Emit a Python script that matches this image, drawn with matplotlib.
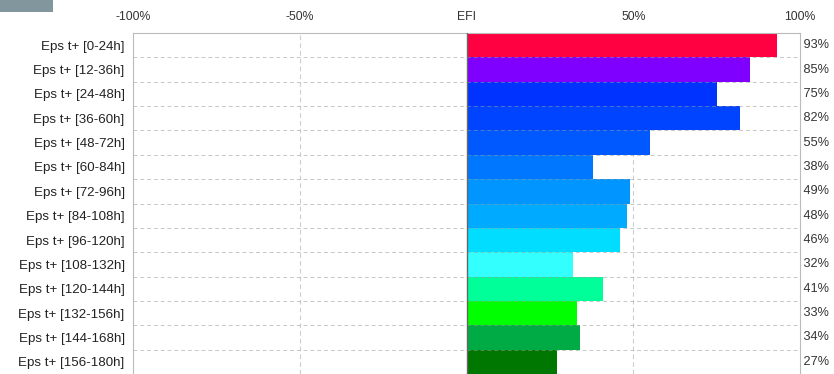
import matplotlib
matplotlib.use("Agg")
import matplotlib.pyplot as plt
from matplotlib.patches import Rectangle

plt.rcParams['font.family'] = ['Liberation Sans', 'DejaVu Sans']

ranges = ["0-24h", "12-36h", "24-48h", "36-60h", "48-72h", "60-84h", "72-96h",
          "84-108h", "96-120h", "108-132h", "120-144h", "132-156h", "144-168h", "156-180h"]
efi = [93, 85, 75, 82, 55, 38, 49, 48, 46, 32, 41, 33, 34, 27]
bar_colors = ["#ff0040", "#8000ff", "#0033ff", "#0044ff", "#0058ff", "#0077ff", "#0095ff",
              "#00aaff", "#00ddff", "#33ffff", "#00ff99", "#00ff00", "#00aa44", "#007700"]
tick_vals = [-100, -50, 0, 50, 100]
tick_text = ["-100%", "-50%", "EFI", "50%", "100%"]

labels = [f"Eps t+ [{r}]" for r in ranges]
n = len(labels)

fig = plt.figure(figsize=(8.34, 3.74), dpi=100)
ax = fig.add_axes([133 / 834, 0.0, 667 / 834, 1 - 33 / 374])

ypos = list(range(n))
ax.barh(ypos, efi, height=1.0, color=bar_colors, left=0, zorder=2)

ax.set_xlim(-100, 100)
ax.set_ylim(n - 0.5, -0.5)

# dashed grid: row separators and the ±50% lines
for k in range(1, n):
    ax.axhline(k - 0.5, color="#999999", lw=0.7, ls=(0, (4, 3)), alpha=0.55, zorder=3)
for xv in (-50, 50):
    ax.axvline(xv, color="#cccccc", lw=0.8, ls=(0, (4, 3)), zorder=1)
ax.axvline(0, color="#666666", lw=1.0, zorder=4)

ax.xaxis.tick_top()
ax.set_xticks(tick_vals)
ax.set_xticklabels(tick_text, fontsize=8.8, color="#333333")
ax.tick_params(axis="x", length=0, pad=7)

ax.set_yticks(ypos)
ax.set_yticklabels(labels, fontsize=9.6, color="#222222")
ax.tick_params(axis="y", length=0, pad=6)

for i, v in enumerate(efi):
    ax.text(1.0, i, f" {v}%", transform=ax.get_yaxis_transform(), ha="left",
            va="center", fontsize=9.2, color="#333333")

for s in ax.spines.values():
    s.set_color("#bbbbbb")
    s.set_linewidth(0.8)
ax.spines["bottom"].set_visible(False)

# small header tab in the corner
fig.patches.append(Rectangle((0, 1 - 12 / 374), 53 / 834, 12 / 374,
                             transform=fig.transFigure, facecolor="#82969d",
                             edgecolor="none"))

fig.savefig("out.png", dpi=100)
